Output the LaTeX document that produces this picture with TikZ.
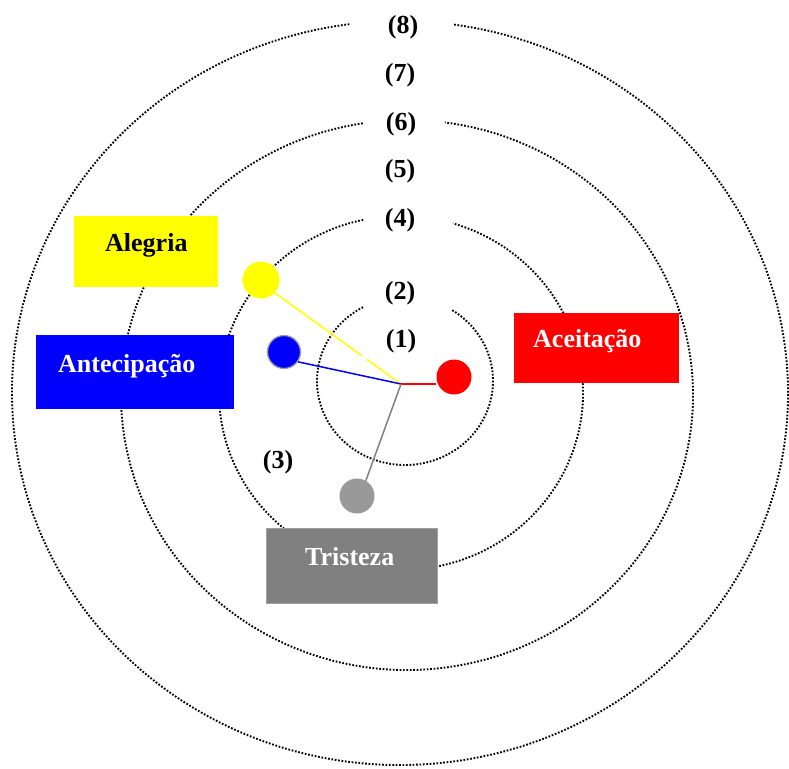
\documentclass[tikz,border=0pt]{standalone}
\usepackage{fontspec}
\setmainfont{Liberation Serif}
\usetikzlibrary{calc}
\definecolor{pyellow}{RGB}{255,255,0}
\definecolor{pblue}{RGB}{0,0,255}
\definecolor{pred}{RGB}{255,0,0}
\definecolor{pgray}{RGB}{128,128,128}
\definecolor{plgray}{RGB}{153,153,153}
\definecolor{pedge}{RGB}{160,160,160}
\begin{document}
\begin{tikzpicture}[x=1pt,y=1pt,
  ring/.style={line width=1.9pt, dash pattern=on 1.7pt off 1.7pt, black},
  num/.style={font=\fontsize{26}{30}\selectfont\bfseries, inner sep=0pt, anchor=center},
  box/.style={rectangle, inner sep=0pt, anchor=north west, draw=none},
  boxtxt/.style={font=\fontsize{26}{30}\selectfont\bfseries, inner sep=0pt, anchor=base west},
  dot/.style={circle, inner sep=0pt, draw=none},
  spoke/.style={line width=1.5pt}]
\useasboundingbox (0,0) rectangle (789,-768);
% dotted rings with gaps at the top
\draw[ring] ($(405,-381)+(118.5:88 and 84)$) arc[start angle=118.5, end angle=417.7, x radius=88, y radius=84];
\draw[ring] ($(401,-393)+(102:182 and 177)$) arc[start angle=102, end angle=433.4, x radius=182, y radius=177];
\draw[ring] ($(407,-395)+(98.9:286 and 275)$) arc[start angle=98.9, end angle=442.4, x radius=286, y radius=275];
\draw[ring] ($(400,-393)+(97.5:388 and 372)$) arc[start angle=97.5, end angle=442, x radius=388, y radius=372];
% level labels
\node[num] (n8) at (403,-27) {(8)};
\node[num] (n7) at (400,-75) {(7)};
\node[num] (n6) at (401,-124) {(6)};
\node[num] (n5) at (400,-171) {(5)};
\node[num] (n4) at (400,-220) {(4)};
\node[num] (n2) at (400,-293) {(2)};
\node[num] (n1) at (401,-341) {(1)};
\node[num] (n3) at (278,-462) {(3)};
% boxes
\node[box, fill=pyellow, minimum width=144pt, minimum height=71pt] (alegriabox) at (74,-216) {};
\node[boxtxt, text=black] (alegria) at (105,-251) {Alegria};
\node[box, fill=pblue, minimum width=198pt, minimum height=74pt] (antecbox) at (36,-335) {};
\node[boxtxt, text=white] (antec) at (58,-372) {Antecipação};
\node[box, fill=pred, minimum width=165pt, minimum height=70pt] (aceitbox) at (514,-313) {};
\node[boxtxt, text=white] (aceit) at (533,-347) {Aceitação};
\node[box, fill=pgray, draw=pedge, line width=1pt, minimum width=171pt, minimum height=75pt] (tristbox) at (266,-528) {};
\node[boxtxt, text=white] (trist) at (305,-565) {Tristeza};
% dots
\coordinate (hub) at (401,-384);
\node[dot, fill=pyellow, minimum size=37pt] (ydot) at (261,-280) {};
\node[dot, fill=pblue, draw=pedge, line width=1.3pt, minimum size=33pt] (bdot) at (284,-352) {};
\node[dot, fill=pred, minimum size=35pt] (rdot) at (454,-377) {};
\node[dot, fill=plgray, minimum size=35pt] (gdot) at (357,-496) {};
% spokes
\draw[spoke, pyellow] (hub) -- (ydot.-43);
\draw[white, line width=3pt] ($(hub)!0.27!(ydot.-43)$) -- ($(hub)!0.31!(ydot.-43)$);
\draw[spoke, pblue] (hub) -- (bdot.-35);
\draw[spoke, pred] (hub) -- (hub -| rdot.west);
\draw[spoke, pgray] (hub) -- (gdot.60);
\end{tikzpicture}
\end{document}
